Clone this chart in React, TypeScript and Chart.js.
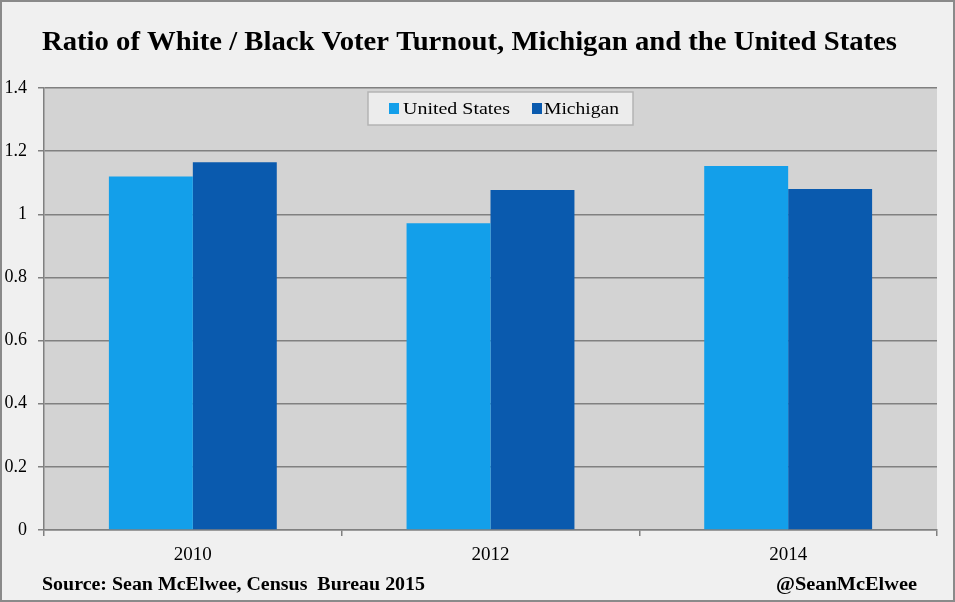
import React, { useEffect, useRef } from "react";
import { Chart, registerables } from "chart.js";

Chart.register(...registerables);

const categories = ["2010", "2012", "2014"];
const unitedStates = [1.12, 0.972, 1.153];
const michigan = [1.165, 1.077, 1.08];
const seriesNames = ["United States", "Michigan"];
const titleText = "Ratio of White / Black Voter Turnout, Michigan and the United States";
const sourceText = "Source: Sean McElwee, Census  Bureau 2015";
const handleText = "@SeanMcElwee";

const SERIF = "'Liberation Serif', 'DejaVu Serif', serif";

function fitText(ctx: any, text: string, x: number, y: number, w: number) {
  const m = ctx.measureText(text).width;
  ctx.save();
  ctx.translate(x, y);
  ctx.scale(w / m, 1);
  ctx.fillText(text, 0, 0);
  ctx.restore();
}

const decorPlugin = {
  id: "decor",
  beforeDraw(chart: any) {
    const { ctx, chartArea, width, height } = chart;
    ctx.save();
    ctx.fillStyle = "#f0f0f0";
    ctx.fillRect(0, 0, width, height);
    ctx.fillStyle = "#d3d3d3";
    ctx.fillRect(chartArea.left, chartArea.top, chartArea.right - chartArea.left, chartArea.bottom - chartArea.top);
    ctx.strokeStyle = "#8a8a8a";
    ctx.lineWidth = 2;
    ctx.strokeRect(1, 1, width - 2, height - 2);
    ctx.restore();
  },
  afterDraw(chart: any) {
    const { ctx } = chart;
    ctx.save();
    ctx.fillStyle = "#000";
    ctx.textBaseline = "alphabetic";
    ctx.textAlign = "left";
    ctx.font = `bold 27px ${SERIF}`;
    fitText(ctx, titleText, 42, 50, 855);
    ctx.font = `bold 18px ${SERIF}`;
    fitText(ctx, sourceText, 42, 590, 383);
    fitText(ctx, handleText, 776, 590, 141);

    const ds = chart.data.datasets;
    const boxL = 368, boxT = 92, boxR = 633, boxB = 125;
    ctx.fillStyle = "#ececec";
    ctx.fillRect(boxL, boxT, boxR - boxL, boxB - boxT);
    ctx.strokeStyle = "#b4b4b4";
    ctx.lineWidth = 1.5;
    ctx.strokeRect(boxL, boxT, boxR - boxL, boxB - boxT);
    const items = [
      { sx: 389, tx: 403, tw: 107 },
      { sx: 532, tx: 544, tw: 75 },
    ];
    ctx.font = `17px ${SERIF}`;
    ds.forEach((d: any, i: number) => {
      const it = items[i];
      ctx.fillStyle = d.backgroundColor;
      ctx.fillRect(it.sx, 103, 10, 11);
      ctx.fillStyle = "#000";
      fitText(ctx, d.label, it.tx, 114, it.tw);
    });
    ctx.restore();
  },
};

export default function App() {
  const ref = useRef<HTMLCanvasElement>(null);
  useEffect(() => {
    document.body.style.margin = "0";
    const chart = new Chart(ref.current as HTMLCanvasElement, {
      type: "bar",
      data: {
        labels: categories,
        datasets: [
          { label: seriesNames[0], data: unitedStates, backgroundColor: "#139fea", borderWidth: 0 },
          { label: seriesNames[1], data: michigan, backgroundColor: "#0a5aae", borderWidth: 0 },
        ],
      },
      plugins: [decorPlugin],
      options: {
        animation: false,
        responsive: false,
        devicePixelRatio: 1,
        layout: { padding: { left: 0, top: 88, right: 18, bottom: 0 } },
        plugins: {
          legend: { display: false },
          title: { display: false },
          tooltip: { enabled: false },
        },
        datasets: { bar: { barPercentage: 1, categoryPercentage: 0.564 } },
        scales: {
          x: {
            afterFit: (s: any) => { s.height = 72; },
            grid: {
              offset: true,
              drawOnChartArea: false,
              drawTicks: true,
              tickLength: 6,
              color: "#808080",
              lineWidth: 1.5,
            },
            border: { display: true, color: "#808080", width: 1.5 },
            ticks: { color: "#000", padding: 8, font: { family: SERIF, size: 19 } },
          },
          y: {
            min: 0,
            max: 1.4,
            afterFit: (s: any) => { s.width = 44; },
            grid: { color: "#808080", lineWidth: 1.5, tickLength: 6, drawTicks: true },
            border: { display: true, color: "#808080", width: 1.5 },
            ticks: {
              stepSize: 0.2,
              color: "#000",
              padding: 11,
              font: { family: SERIF, size: 18 },
              callback: (v: any) => String(Number(Number(v).toFixed(1))),
            },
          },
        },
      },
    });
    return () => chart.destroy();
  }, []);
  return <canvas ref={ref} width={955} height={602} style={{ display: "block" }} />;
}
